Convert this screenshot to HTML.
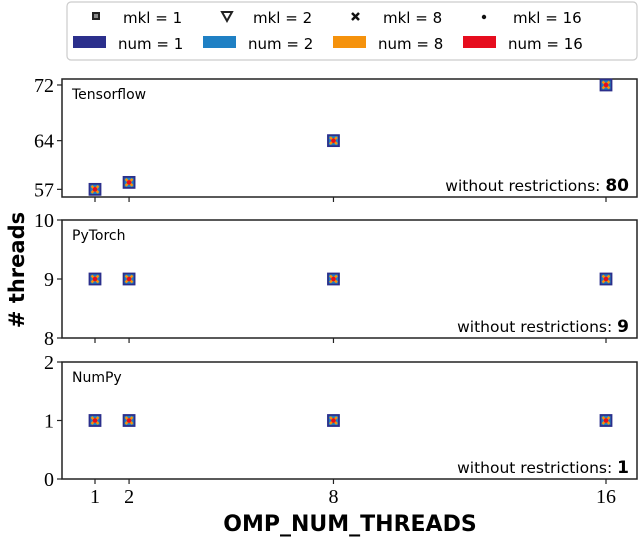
<!DOCTYPE html>
<html><head><meta charset="utf-8"><style>
body{margin:0;background:#fff;width:640px;height:537px;overflow:hidden}
svg{display:block}
.sans{font-family:"DejaVu Sans","Liberation Sans",sans-serif}
.serif{font-family:"Liberation Serif","DejaVu Serif",serif}
</style></head><body>
<svg id="chart" width="640" height="537">
<g id="legend">
<rect x="67" y="2" width="570" height="58" rx="4" fill="#fff" stroke="#ccc" stroke-width="1.2"/>
<g><rect x="92" y="12" width="8" height="8" fill="#222"/><rect x="94" y="14" width="4" height="4" fill="#888"/><text class="sans" x="123" y="23" font-size="15">mkl = 1</text></g>
<g><path d="M222 12 L232 12 L227 21 Z" fill="none" stroke="#222" stroke-width="2"/><text class="sans" x="253" y="23" font-size="15">mkl = 2</text></g>
<g><path d="M352 13 L359 20 M359 13 L352 20" stroke="#111" stroke-width="2.5"/><text class="sans" x="383" y="23" font-size="15">mkl = 8</text></g>
<g><circle cx="484" cy="17" r="2.2" fill="#111"/><text class="sans" x="513" y="23" font-size="15">mkl = 16</text></g>
<g><rect x="73" y="36" width="33" height="12" fill="#2b2f8c"/><text class="sans" x="118" y="49" font-size="15">num = 1</text></g>
<g><rect x="203" y="36" width="33" height="12" fill="#1f80c4"/><text class="sans" x="248" y="49" font-size="15">num = 2</text></g>
<g><rect x="333" y="36" width="33" height="12" fill="#f5920c"/><text class="sans" x="378" y="49" font-size="15">num = 8</text></g>
<g><rect x="463" y="36" width="33" height="12" fill="#e60d1e"/><text class="sans" x="508" y="49" font-size="15">num = 16</text></g>
</g>
<text class="sans" font-weight="bold" font-size="21" transform="translate(24,270) rotate(-90)" text-anchor="middle"># threads</text>
<text class="sans" font-weight="bold" font-size="22" x="350" y="531" text-anchor="middle">OMP_NUM_THREADS</text>
<g id="plots"></g>
</svg>
<script>
const xValues = [1, 2, 8, 16];
const xTickLabels = ["1", "2", "8", "16"];
const panelNames = ["Tensorflow", "PyTorch", "NumPy"];
const tfValues = [57, 58, 64, 72];
const ptValues = [9, 9, 9, 9];
const npValues = [1, 1, 1, 1];
const tfTicks = [57, 64, 72];
const ptTicks = [8, 9, 10];
const npTicks = [0, 1, 2];
const unrestricted = ["80", "9", "1"];

const NS = "http://www.w3.org/2000/svg";
const L = 62, R = 637;
const xScale = v => 95 + (v - 1) * (606 - 95) / 15;
const panels = [
  {top: 79, bot: 197, d0: 55.9, d1: 72.86, vals: tfValues, ticks: tfTicks},
  {top: 220, bot: 338, d0: 8, d1: 10, vals: ptValues, ticks: ptTicks},
  {top: 362, bot: 479, d0: 0, d1: 2, vals: npValues, ticks: npTicks}
];
const root = document.getElementById('plots');
function mk(tag, attrs, parent) {
  const e = document.createElementNS(NS, tag);
  for (const k in attrs) e.setAttribute(k, attrs[k]);
  parent.appendChild(e);
  return e;
}
panels.forEach((p, i) => {
  const y = v => p.bot - (v - p.d0) * (p.bot - p.top) / (p.d1 - p.d0);
  const g = mk('g', {}, root);
  
  
  const fr = mk('rect', {x: L, y: p.top, width: R - L, height: p.bot - p.top, fill: 'none', stroke: '#222', 'stroke-width': 1.5}, g);
  
  
  p.ticks.forEach(t => {
    mk('line', {x1: L - 5, x2: L, y1: y(t), y2: y(t), stroke: '#222', 'stroke-width': 1.2}, g);
    const tx = mk('text', {x: L - 8, y: y(t) + 7, 'text-anchor': 'end', 'font-size': 20, class: 'serif'}, g);
    tx.textContent = t;
    
    
  });
  xValues.forEach((xv, j) => {
    mk('line', {x1: xScale(xv), x2: xScale(xv), y1: p.bot, y2: p.bot + 5, stroke: '#222', 'stroke-width': 1.2}, g);
  });
  const nm = mk('text', {x: L + 10, y: p.top + 20, 'font-size': 14, class: 'sans'}, g);
  nm.textContent = panelNames[i];
  
  
  const wr = mk('text', {x: R - 8, y: p.bot - 6, 'text-anchor': 'end', 'font-size': 15.5, class: 'sans'}, g);
  wr.innerHTML = 'without restrictions: <tspan font-weight="bold" font-size="17">' + unrestricted[i] + '</tspan>';
  
  
  p.vals.forEach((v, j) => {
    const cx = xScale(xValues[j]), cy = y(v);
    const m = mk('g', {}, g);
    
    
    mk('rect', {x: cx - 5.5, y: cy - 5.5, width: 11, height: 11, fill: '#1f80c4', stroke: '#2b2f8c', 'stroke-width': 1.8}, m);
    mk('path', {d: `M${cx-3.5} ${cy-3.5}L${cx+3.5} ${cy+3.5}M${cx+3.5} ${cy-3.5}L${cx-3.5} ${cy+3.5}`, stroke: '#f5920c', 'stroke-width': 2.5}, m);
    mk('circle', {cx: cx, cy: cy, r: 2.3, fill: '#e60d1e'}, m);
  });
});
xValues.forEach((xv, j) => {
  const t = mk('text', {x: xScale(xv), y: 503, 'text-anchor': 'middle', 'font-size': 20, class: 'serif'}, root);
  t.textContent = xTickLabels[j];
  
  
});
</script>
</body></html>
